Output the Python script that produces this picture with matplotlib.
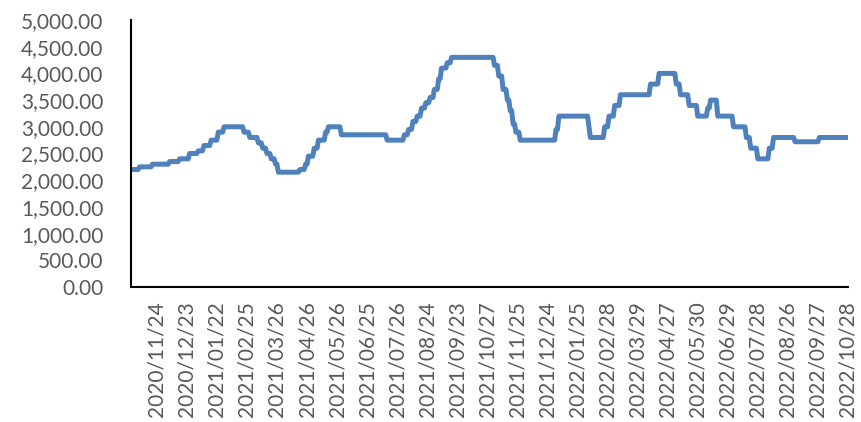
import numpy as np
import matplotlib
matplotlib.use("Agg")
import matplotlib.pyplot as plt
from matplotlib.ticker import FuncFormatter

# Price levels (run-length encoded: level, number of trading days at that level)
levels = [2200, 2250, 2300, 2350, 2400, 2500, 2550, 2650, 2750, 2900,
          3000, 2900, 2800, 2700, 2600, 2500, 2400, 2300, 2150, 2200,
          2300, 2450, 2600, 2750, 2900, 3000, 2850, 2750, 2850, 2950,
          3100, 3200, 3350, 3450, 3550, 3700, 3900, 4100, 4200, 4300,
          4150, 3950, 3700, 3500, 3300, 3050, 2900, 2750, 2950, 3200,
          3000, 2800, 3000, 3200, 3400, 3600, 3800, 4000, 3800, 3600,
          3400, 3200, 3350, 3500, 3200, 3000, 2800, 2600, 2400, 2600,
          2800, 2720, 2800]
days = [6, 9, 12, 7, 7, 6, 4, 5, 5, 4,
        14, 4, 6, 3, 3, 3, 3, 2, 15, 4,
        2, 4, 3, 5, 2, 9, 32, 12, 3, 3,
        3, 3, 3, 3, 3, 3, 2, 4, 3, 30,
        3, 3, 3, 2, 2, 2, 3, 25, 2, 21,
        1, 10, 3, 4, 4, 21, 6, 12, 3, 6,
        6, 7, 2, 5, 11, 9, 3, 5, 8, 3,
        15, 17, 21]

tick_labels = ["2020/11/24", "2020/12/23", "2021/01/22", "2021/02/25",
               "2021/03/26", "2021/04/26", "2021/05/26", "2021/06/25",
               "2021/07/26", "2021/08/24", "2021/09/23", "2021/10/27",
               "2021/11/25", "2021/12/24", "2022/01/25", "2022/02/28",
               "2022/03/29", "2022/04/27", "2022/05/30", "2022/06/29",
               "2022/07/28", "2022/08/26", "2022/09/27", "2022/10/28"]
label_step = 21

values = np.repeat(levels, days)
n = len(values)
x = np.arange(n)

plt.rcParams['font.family'] = ['Lato', 'DejaVu Sans']
fig = plt.figure(figsize=(8.61, 4.22), dpi=100)
ax = fig.add_axes([131/861, 1 - 287/422, (848 - 131)/861, (287 - 20)/422])

ax.plot(x, values, color='#4F81BD', linewidth=3.6,
        solid_joinstyle='round', solid_capstyle='round')

ax.set_xlim(0, n - 1)
ax.set_ylim(0, 5000)
ax.set_yticks(np.arange(0, 5001, 500))
ax.yaxis.set_major_formatter(FuncFormatter(lambda v, p: f"{v:,.2f}"))

tick_pos = [n - 1 - label_step * (len(tick_labels) - 1 - i) for i in range(len(tick_labels))]
ax.set_xticks(tick_pos)
ax.set_xticklabels(tick_labels, rotation=90)

for s in ['top', 'right']:
    ax.spines[s].set_visible(False)
for s in ['left', 'bottom']:
    ax.spines[s].set_color('black')
    ax.spines[s].set_linewidth(1.5)

ax.tick_params(axis='y', length=0, pad=20, labelsize=15, labelcolor='#595959')
ax.tick_params(axis='x', length=0, pad=10, labelsize=15, labelcolor='#595959')

fig.savefig('out.png', dpi=100)
